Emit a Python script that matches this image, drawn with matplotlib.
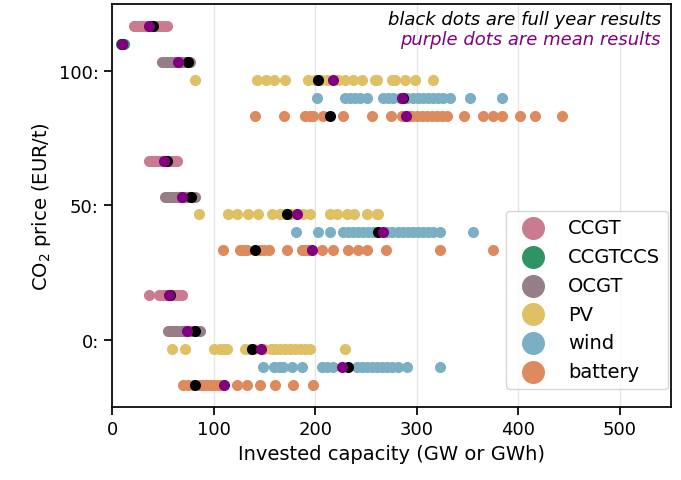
import matplotlib
matplotlib.use("Agg")
import matplotlib.pyplot as plt
from matplotlib.ticker import FixedLocator, FixedFormatter

# ---------------- data ----------------
co2_prices = [0, 50, 100]
techs = ["CCGT", "CCGTCCS", "OCGT", "PV", "wind", "battery"]
tech_colors = ["#c97b8f", "#2e9464", "#977d87", "#dfc064", "#7bafc4", "#de8a5f"]
row_offsets = [16.67, 10.0, 3.33, -3.33, -10.0, -16.67]

# individual-period results (GW or GWh) per CO2 price
ccgt_0 = [36, 46, 50, 53, 55, 57, 59, 61, 63, 65, 67, 69]
ccgt_50 = [36, 39, 41, 43, 45, 47, 49, 51, 53, 55, 57, 59, 61, 64]
ccgt_100 = [22, 25, 27, 29, 31, 33, 34, 36, 37, 39, 41, 43, 45, 47, 50, 54]

ccgtccs_0 = []
ccgtccs_50 = []
ccgtccs_100 = [8.5, 10, 11.5]

ocgt_0 = [55, 57, 59, 61, 63, 65, 67, 69, 71, 73, 75, 77, 79, 81, 84, 87]
ocgt_50 = [52, 54, 56, 58, 60, 62, 64, 66, 68, 70, 72, 74, 76, 78, 80, 82]
ocgt_100 = [49, 51, 53, 55, 57, 59, 61, 63, 65, 67, 69, 71, 73, 75, 77]

pv_0 = [59, 72, 100, 106, 110, 113, 131, 136, 140, 150, 156, 160, 165, 170,
        175, 180, 185, 190, 195, 229]
pv_50 = [86, 114, 123, 134, 144, 157, 165, 170, 176, 182, 188, 195, 215, 221,
         231, 238, 251, 261, 262]
pv_100 = [82, 143, 152, 159, 170, 193, 200, 206, 212, 222, 229, 237, 246, 259,
          261, 276, 279, 288, 298, 316]

wind_0 = [149, 159, 164, 168, 177, 187, 207, 212, 218, 241, 246, 251, 256, 261,
          266, 271, 276, 281, 290, 323]
wind_50 = [181, 203, 215, 227, 232, 237, 242, 247, 252, 257, 261, 271, 276, 281,
           286, 291, 296, 301, 306, 311, 316, 323, 355]
wind_100 = [202, 229, 234, 239, 244, 251, 267, 272, 277, 283, 290, 296, 301, 306,
            311, 316, 321, 326, 333, 352, 384]

battery_0 = [70, 75, 80, 87, 90, 93, 96, 99, 102, 106, 123, 133, 146, 160, 178, 198]
battery_50 = [109, 126, 130, 133, 146, 150, 155, 172, 187, 190, 193, 207, 218, 232,
              242, 251, 270, 323, 375]
battery_100 = [141, 169, 190, 195, 198, 208, 227, 256, 275, 285, 288, 292, 295, 300,
               305, 310, 315, 320, 325, 330, 346, 365, 375, 384, 402, 416, 443]

# full-year results (black) per tech, for CO2 = 0, 50, 100
full_ccgt = [57, 54, 40]
full_ccgtccs = [None, None, 10]
full_ocgt = [82, 78, 75]
full_pv = [138, 172, 203]
full_wind = [232, 262, 286]
full_battery = [82, 141, 215]

# mean results (purple) per tech, for CO2 = 0, 50, 100
mean_ccgt = [56, 51, 36]
mean_ccgtccs = [None, None, 10]
mean_ocgt = [74, 69, 65]
mean_pv = [147, 182, 218]
mean_wind = [226, 267, 285]
mean_battery = [110, 197, 289]

ytick_values = [0, 50, 100]
ytick_labels = ["0:", "50:", "100:"]

samples = {
    "CCGT": [ccgt_0, ccgt_50, ccgt_100],
    "CCGTCCS": [ccgtccs_0, ccgtccs_50, ccgtccs_100],
    "OCGT": [ocgt_0, ocgt_50, ocgt_100],
    "PV": [pv_0, pv_50, pv_100],
    "wind": [wind_0, wind_50, wind_100],
    "battery": [battery_0, battery_50, battery_100],
}
full_year = {"CCGT": full_ccgt, "CCGTCCS": full_ccgtccs, "OCGT": full_ocgt,
             "PV": full_pv, "wind": full_wind, "battery": full_battery}
means = {"CCGT": mean_ccgt, "CCGTCCS": mean_ccgtccs, "OCGT": mean_ocgt,
         "PV": mean_pv, "wind": mean_wind, "battery": mean_battery}

# ---------------- plot ----------------
plt.rcParams["font.family"] = ["DejaVu Sans"]
fig = plt.figure(figsize=(6.81, 4.81), dpi=100)
ax = fig.add_axes([0.1645, 0.152, 0.8205, 0.8376])

S = 64
for tech, col, off in zip(techs, tech_colors, row_offsets):
    first = True
    for p, vals in zip(co2_prices, samples[tech]):
        if len(vals) == 0:
            continue
        ax.scatter(vals, [p + off] * len(vals), s=S, color=col, linewidths=0,
                   label=tech if first else None, zorder=2)
        first = False

for tech, off in zip(techs, row_offsets):
    for p, v in zip(co2_prices, full_year[tech]):
        if v is not None:
            ax.scatter([v], [p + off], s=S, color="black", linewidths=0, zorder=3)
for tech, off in zip(techs, row_offsets):
    for p, v in zip(co2_prices, means[tech]):
        if v is not None:
            ax.scatter([v], [p + off], s=S, color="purple", linewidths=0, zorder=4)

ax.set_xlim(0, 550)
ax.set_ylim(-25, 125)
ax.yaxis.set_major_locator(FixedLocator(ytick_values))
ax.yaxis.set_major_formatter(FixedFormatter(ytick_labels))
ax.set_xticks([0, 100, 200, 300, 400, 500])
ax.tick_params(axis="both", labelsize=13, length=6, width=1.25, direction="out")
for sp in ax.spines.values():
    sp.set_linewidth(1.25)
ax.grid(axis="x", color="#e6e6e6", linewidth=1.0, zorder=0)
ax.set_axisbelow(True)

ax.set_xlabel("Invested capacity (GW or GWh)", fontsize=14)
ax.set_ylabel("CO$_2$ price (EUR/t)", fontsize=14)

ax.text(0.982, 0.963, "black dots are full year results", transform=ax.transAxes,
        ha="right", va="center", fontsize=13, style="italic", color="black")
ax.text(0.982, 0.912, "purple dots are mean results", transform=ax.transAxes,
        ha="right", va="center", fontsize=13, style="italic", color="purple")

ax.legend(loc="lower right", bbox_to_anchor=(0.995, 0.045), borderaxespad=0,
          fontsize=14, markerscale=2.07, labelspacing=0.5, scatterpoints=1)

fig.savefig("out.png", dpi=100)
